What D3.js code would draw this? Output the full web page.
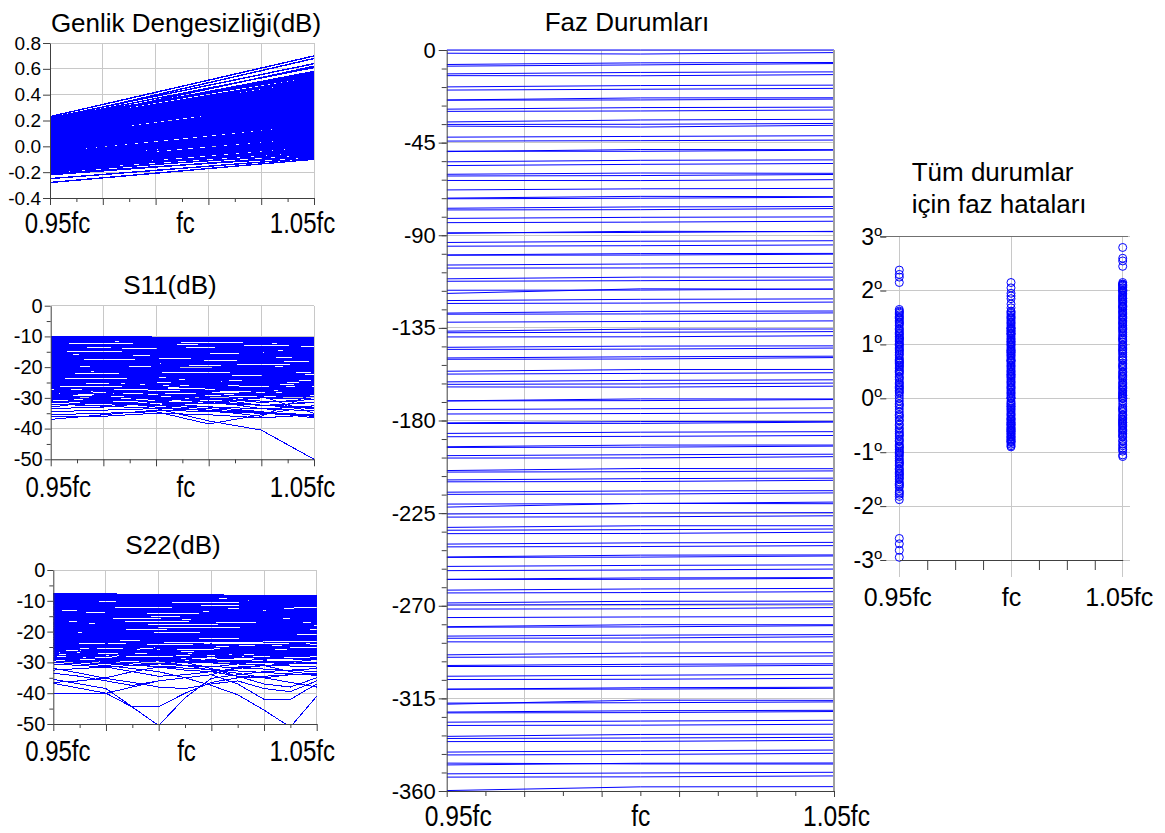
<!DOCTYPE html>
<html>
<head>
<meta charset="utf-8">
<script src="https://cdn.jsdelivr.net/npm/d3@7"></script>
<style>
  body { margin: 0; background: #fff; }
  text { font-family: "Liberation Sans", Arial, sans-serif; fill: #000; }
</style>
</head>
<body>
<script>
// ---- frequency axis ----
const freqGrid = [0.95, 0.97, 0.99, 1.01, 1.03, 1.05];
const freqMinor = [0.96, 0.98, 1.00, 1.02, 1.04];
const freq3 = [0.95, 1.00, 1.05];
const freq6 = [0.95, 0.97, 0.99, 1.01, 1.03, 1.05];
const freq11 = [0.95, 0.96, 0.97, 0.98, 0.99, 1.00, 1.01, 1.02, 1.03, 1.04, 1.05];
const labelFreqs = [0.95, 1.00, 1.05];
const labelTexts = ["0.95fc", "fc", "1.05fc"];
const errMinor = [0.9625, 0.975, 0.9875, 1.0125, 1.025, 1.0375];

// ---- tick labels ----
const genlikTicks = [0.8, 0.6, 0.4, 0.2, 0.0, -0.2, -0.4];
const sTicks = [0, -10, -20, -30, -40, -50];
const sMinor = [-5, -15, -25, -35, -45];
const phaseTicks = [0, -45, -90, -135, -180, -225, -270, -315, -360];
const errTicks = [3, 2, 1, 0, -1, -2, -3];

// ---- 7-bit phase shifter: 128 states, 2.8125 deg step ----
const phaseStep = 2.8125;
const states = d3.range(128);

// phase error (deg) of each state at 0.95fc, fc, 1.05fc
const err095 = [
  0.00, 1.25, -1.42, 0.58, -0.35, 1.60, -1.05, 0.22, -1.78, 0.95, -0.62, 1.12, -1.20, 0.40, 2.38, -0.15,
  0.75, -1.55, 1.48, -0.88, 0.10, -1.32, 0.66, 1.30, -0.48, -1.65, 0.85, -0.95, 1.05, -0.25, 0.50, -1.88,
  1.18, -0.70, 0.30, -1.12, 1.55, -0.40, 0.92, -1.48, 0.15, -2.95, 1.40, -0.80, 0.62, -1.25, 1.02, -0.05,
  -1.60, 0.45, 1.22, -1.00, 0.80, -0.55, 1.62, -1.38, 0.05, -0.92, 0.70, 2.25, -1.72, 1.10, -0.30, 0.35,
  -1.15, 1.35, -0.65, 0.55, -1.50, 0.98, -0.20, 1.45, -1.82, 0.25, -0.75, 1.15, -1.08, 0.68, -2.70, 1.58,
  -0.42, 0.88, -1.30, 0.12, 1.28, -0.98, 0.48, -1.62, 1.00, -0.58, 0.18, -1.22, 1.52, -0.85, 0.60, -1.45,
  0.38, 1.20, -0.12, -1.75, 0.82, -0.68, 1.08, 2.15, -1.35, 0.28, -0.90, 1.42, -0.50, 0.72, -1.18, 1.65,
  -2.82, 0.52, -1.02, 1.38, -0.32, 0.90, -1.58, 0.20, 1.50, -0.78, 0.65, -1.40, 2.30, -0.10, 1.12, -2.60
];
const errFc = [
  0.00, 0.85, -0.62, 1.20, 0.35, 1.55, -0.40, 0.62, -0.78, 1.05, 0.15, 1.32, -0.25, 0.48, 1.95, 0.20,
  0.95, -0.55, 1.40, -0.15, 0.70, -0.70, 0.88, 1.25, 0.05, -0.80, 1.10, -0.30, 1.18, 0.28, 0.75, -0.88,
  1.35, -0.10, 0.55, -0.48, 1.62, 0.10, 1.00, -0.65, 0.42, -0.72, 1.48, -0.20, 0.80, -0.35, 1.15, 0.30,
  -0.60, 0.68, 1.28, -0.42, 0.92, 0.02, 1.75, -0.58, 0.38, -0.18, 0.90, 2.15, -0.75, 1.22, 0.12, 0.58,
  -0.50, 1.42, -0.05, 0.72, -0.68, 1.08, 0.25, 1.50, -0.82, 0.45, -0.12, 1.30, -0.45, 0.82, -0.90, 1.85,
  0.08, 1.02, -0.52, 0.40, 1.38, -0.38, 0.65, -0.72, 1.12, -0.08, 0.50, -0.55, 1.58, -0.28, 0.78, -0.62,
  0.60, 1.30, 0.18, -0.76, 0.98, -0.22, 1.20, 2.05, -0.48, 0.52, -0.32, 1.45, 0.00, 0.85, -0.45, 1.68,
  -0.85, 0.70, -0.38, 1.52, 0.22, 1.05, -0.66, 0.44, 1.60, -0.15, 0.88, -0.58, 1.90, 0.32, 1.25, -0.80
];
const err105 = [
  0.00, 1.55, -0.45, 1.85, 0.62, 2.10, -0.20, 1.05, -0.72, 1.48, 0.35, 1.78, 0.10, 0.88, 2.80, 0.55,
  1.25, -0.60, 1.95, 0.05, 1.12, -0.85, 1.40, 1.70, 0.28, -0.95, 1.60, -0.10, 1.72, 0.48, 1.18, -1.08,
  1.90, 0.15, 0.92, -0.38, 2.05, 0.40, 1.35, -0.65, 0.78, -0.88, 2.00, 0.02, 1.28, -0.25, 1.65, 0.58,
  -0.55, 1.00, 1.82, -0.30, 1.45, 0.30, 2.45, -0.50, 0.70, 0.08, 1.30, 2.60, -0.78, 1.75, 0.45, 0.98,
  -0.42, 2.02, 0.20, 1.15, -0.68, 1.62, 0.50, 2.12, -0.92, 0.82, 0.12, 1.88, -0.35, 1.38, -1.05, 2.55,
  0.25, 1.52, -0.48, 0.72, 1.98, -0.15, 1.08, -0.62, 1.68, 0.18, 0.95, -0.40, 2.08, 0.00, 1.22, -0.58,
  0.85, 1.92, 0.38, -0.80, 1.58, 0.05, 1.80, 2.15, -0.32, 0.90, -0.05, 2.00, 0.42, 1.32, -0.22, 2.10,
  -0.98, 1.10, -0.18, 2.05, 0.60, 1.50, -0.52, 0.75, 2.12, 0.22, 1.42, -0.45, 1.85, 0.65, 1.70, -0.70
];
const phaseErr = [err095, errFc, err105];

// amplitude imbalance (dB) of each state at 0.95fc and 1.05fc
const genlik095 = [
  0.23, 0.21, 0.18, 0.20, 0.15, 0.12, 0.19, 0.08, 0.10, 0.05, 0.14, 0.02, 0.07, -0.01, 0.11, 0.04,
  0.16, 0.22, 0.13, 0.06, 0.00, -0.03, 0.09, 0.17, -0.05, 0.03, 0.12, -0.08, 0.01, 0.19, -0.02, 0.08,
  -0.10, 0.14, 0.05, -0.12, 0.21, -0.06, 0.10, -0.04, 0.18, -0.14, 0.02, 0.07, -0.09, 0.15, -0.01, 0.11,
  -0.16, 0.04, -0.07, 0.13, -0.11, 0.20, -0.03, 0.06, -0.18, 0.09, -0.13, 0.01, 0.16, -0.15, 0.03, -0.05,
  -0.20, 0.12, -0.08, 0.18, -0.17, 0.05, -0.02, 0.10, -0.19, 0.14, -0.10, 0.00, 0.22, -0.21, 0.07, -0.06,
  -0.12, 0.17, -0.04, 0.09, -0.16, 0.02, 0.13, -0.09, 0.19, -0.14, 0.04, -0.01, 0.11, -0.18, 0.06, -0.07,
  -0.22, 0.15, -0.11, 0.08, -0.03, 0.20, -0.15, 0.01, 0.12, -0.06, 0.16, -0.20, 0.03, -0.13, 0.10, -0.02,
  -0.28, -0.25, 0.21, -0.17, 0.05, -0.08, 0.14, -0.10, 0.18, -0.04, 0.07, -0.19, 0.00, 0.11, -0.12, 0.09
];
const genlik105 = [
  0.70, 0.68, 0.62, 0.55, 0.50, 0.45, 0.58, 0.40, 0.36, 0.33, 0.47, 0.30, 0.38, 0.22, 0.42, 0.28,
  0.48, 0.64, 0.44, 0.35, 0.25, 0.20, 0.39, 0.52, 0.15, 0.31, 0.46, 0.10, 0.27, 0.53, 0.18, 0.37,
  0.12, 0.43, 0.29, 0.06, 0.56, 0.16, 0.34, 0.21, 0.49, 0.04, 0.26, 0.32, 0.09, 0.45, 0.23, 0.40,
  0.02, 0.30, 0.14, 0.41, 0.08, 0.51, 0.19, 0.33, -0.02, 0.36, 0.05, 0.24, 0.47, 0.00, 0.28, 0.13,
  -0.05, 0.39, 0.11, 0.50, -0.03, 0.31, 0.20, 0.37, -0.06, 0.44, 0.07, 0.25, 0.54, -0.08, 0.34, 0.15,
  0.10, 0.48, 0.17, 0.35, 0.01, 0.27, 0.42, 0.12, 0.52, 0.03, 0.29, 0.22, 0.38, -0.04, 0.32, 0.14,
  -0.07, 0.46, 0.08, 0.36, 0.19, 0.57, 0.02, 0.26, 0.41, 0.16, 0.49, -0.05, 0.30, 0.06, 0.39, 0.21,
  -0.10, -0.09, 0.61, 0.00, 0.31, 0.13, 0.45, 0.10, 0.53, 0.18, 0.34, -0.01, 0.24, 0.40, 0.09, 0.37
];

// S11 (dB): near-flat traces (0.95fc -> 1.05fc) and deeper traces at freq6
const s11Start = [
  -10.0, -10.3, -10.8, -11.2, -11.5, -12.0, -12.4, -12.9, -13.1, -13.6, -14.0, -14.3, -14.8, -15.2, -15.5, -16.0,
  -16.3, -16.9, -17.2, -17.5, -18.0, -18.4, -18.8, -19.1, -19.6, -20.0, -20.4, -20.7, -21.2, -21.6, -22.0, -22.3,
  -22.8, -23.1, -23.5, -24.0, -10.1, -10.6, -11.0, -11.8, -12.2, -12.7, -13.3, -13.8, -14.5, -15.0, -15.8, -16.6,
  -17.0, -17.8, -18.2, -19.0, -19.4, -20.2, -20.9, -21.4, -21.9, -22.5, -23.3, -23.8, -24.4, -24.8, -10.2, -10.4,
  -11.4, -12.6, -13.5, -14.1, -15.4, -16.2, -17.4, -18.6, -19.8, -20.6, -21.0, -22.2, -23.0, -24.2, -25.0, -25.5,
  -26.0, -26.4, -27.0, -27.5, -28.0, -28.3, -28.8, -29.2, -29.6, -30.0, -30.5, -31.0, -31.4, -32.0, -25.8, -26.8,
  -27.8, -29.0, -30.2, -31.2, -24.6, -25.2, -22.6, -21.8, -19.3, -16.8, -13.0, -11.6, -10.0, -12.8, -15.6, -18.3
];
const s11End = [
  -10.5, -10.6, -11.5, -10.9, -12.8, -11.3, -13.5, -12.0, -14.6, -12.5, -15.2, -13.8, -13.9, -16.5, -14.8, -17.2,
  -15.5, -18.0, -16.4, -18.9, -17.0, -19.8, -17.9, -20.5, -18.6, -21.4, -19.5, -22.0, -20.3, -22.8, -21.0, -23.5,
  -21.9, -24.6, -22.8, -25.3, -10.6, -11.8, -10.7, -12.9, -11.4, -13.9, -12.4, -14.9, -13.6, -16.2, -14.9, -17.4,
  -16.1, -19.1, -17.3, -20.2, -18.4, -21.3, -19.9, -22.6, -20.8, -23.7, -22.1, -24.9, -23.3, -26.1, -10.5, -11.2,
  -10.8, -13.7, -12.3, -15.3, -14.2, -17.5, -16.0, -19.6, -18.3, -21.5, -20.1, -23.2, -21.9, -25.6, -23.8, -27.0,
  -24.5, -28.2, -25.8, -29.0, -26.5, -30.4, -27.2, -31.5, -28.3, -33.0, -28.8, -34.2, -29.5, -35.5, -27.0, -29.5,
  -33.5, -26.5, -35.8, -28.5, -26.0, -27.8, -24.0, -20.5, -21.5, -15.9, -14.5, -10.9, -10.7, -11.9, -16.8, -17.2
];
const s11Deep = [
  [-34.5, -34.0, -33.5, -37.5, -40.5, -50.0],
  [-37.0, -35.5, -34.0, -34.5, -35.0, -36.0],
  [-35.5, -35.0, -34.5, -38.5, -35.5, -32.5],
  [-32.0, -32.5, -31.5, -32.0, -29.5, -35.0],
  [-33.0, -31.0, -33.0, -34.0, -36.0, -28.5],
  [-36.0, -36.0, -35.0, -35.5, -36.5, -35.5],
  [-31.0, -31.5, -32.5, -31.0, -33.5, -33.0],
  [-30.0, -29.5, -28.5, -30.0, -31.5, -30.5],
  [-29.0, -30.0, -29.5, -28.5, -29.0, -27.5],
  [-33.5, -33.0, -31.5, -33.0, -34.5, -36.5],
  [-28.5, -28.0, -30.0, -29.0, -28.0, -29.5],
  [-31.5, -32.0, -31.0, -30.0, -32.5, -31.5],
  [-27.5, -26.5, -27.0, -27.5, -27.0, -28.0],
  [-26.5, -27.0, -25.5, -26.0, -25.5, -26.5],
  [-30.5, -31.0, -30.0, -31.5, -30.0, -29.0],
  [-25.5, -25.0, -26.5, -25.0, -26.0, -27.0]
];

// S22 (dB): near-flat traces (0.95fc -> 1.05fc) and deeper traces at freq11
const s22Start = [
  -7.6, -7.9, -8.3, -8.8, -9.2, -9.7, -10.1, -10.6, -11.0, -11.5, -11.9, -12.4, -12.8, -13.3, -13.7, -14.2,
  -14.6, -15.1, -15.5, -16.0, -16.4, -16.9, -17.3, -17.8, -18.2, -18.7, -19.1, -19.6, -20.0, -20.5, -20.9, -21.4,
  -21.8, -22.3, -22.7, -23.2, -7.7, -8.1, -8.6, -9.4, -10.3, -11.2, -12.1, -13.0, -13.9, -14.8, -15.7, -16.6,
  -17.5, -18.4, -19.3, -20.2, -21.1, -22.0, -22.9, -23.8, -24.5, -25.2, -25.8, -26.5, -27.2, -27.8, -28.4, -29.0,
  -7.8, -8.0, -8.5, -9.0, -9.9, -10.8, -11.7, -12.6, -13.5, -14.4, -15.3, -16.2, -17.1, -18.0, -18.9, -19.8,
  -20.7, -21.6, -22.5, -23.4, -24.0, -24.8, -25.5, -26.2, -26.9, -27.6, -28.2, -28.8, -29.5, -30.0, -12.2, -14.0,
  -7.7, -8.4, -9.6, -10.4, -11.3, -12.9, -14.6, -16.1, -17.7, -19.4, -21.0, -22.6, -24.2, -25.6, -27.0, -28.6
];
const s22End = [
  -8.4, -8.6, -9.5, -9.0, -10.6, -10.2, -11.8, -11.0, -12.9, -12.0, -13.8, -13.1, -14.9, -13.9, -15.8, -14.8,
  -16.4, -15.6, -17.3, -16.5, -18.2, -17.4, -19.0, -18.3, -19.8, -19.1, -20.5, -19.9, -21.2, -20.6, -21.8, -21.4,
  -22.2, -21.9, -22.6, -23.0, -8.5, -8.9, -9.9, -9.6, -11.4, -11.0, -13.2, -12.7, -15.0, -14.3, -16.8, -15.9,
  -18.5, -17.8, -20.2, -19.5, -21.6, -21.3, -23.5, -22.8, -25.8, -24.0, -27.5, -26.0, -28.8, -26.8, -30.0, -27.5,
  -8.4, -8.8, -9.2, -10.0, -10.6, -11.6, -12.4, -13.5, -14.2, -15.1, -16.0, -16.9, -17.8, -18.6, -19.5, -20.4,
  -21.2, -22.0, -22.9, -24.5, -25.0, -26.2, -27.0, -28.3, -29.1, -30.5, -31.5, -33.0, -34.2, -27.0, -12.9, -15.0,
  -8.5, -9.1, -10.3, -11.1, -12.0, -13.6, -15.3, -16.8, -18.4, -20.0, -21.5, -23.0, -25.5, -27.8, -26.5, -30.5
];
const s22Deep = [
  [-36.8, -38.4, -40.0, -44.5, -50.5, -41.5, -35.2, -34.0, -33.0, -32.5, -32.0],
  [-35.5, -37.0, -38.5, -44.4, -44.4, -40.0, -36.5, -35.0, -34.5, -34.0, -33.5],
  [-30.0, -30.5, -31.0, -32.0, -33.0, -35.0, -37.5, -40.5, -45.5, -51.0, -41.0],
  [-33.5, -34.5, -36.0, -37.5, -36.0, -35.0, -34.0, -37.0, -42.0, -42.0, -37.0],
  [-31.9, -33.5, -35.2, -36.5, -38.0, -38.5, -37.0, -36.0, -38.5, -39.5, -36.0],
  [-40.0, -40.0, -40.0, -38.0, -36.0, -35.0, -34.0, -31.5, -31.0, -33.0, -34.0],
  [-32.5, -32.0, -31.5, -31.0, -30.5, -30.0, -32.0, -34.5, -37.0, -38.0, -35.0],
  [-29.0, -29.5, -30.0, -30.5, -31.5, -32.5, -33.0, -32.0, -31.0, -30.5, -30.0],
  [-36.5, -36.0, -35.0, -33.0, -31.5, -31.0, -32.5, -33.5, -35.0, -36.5, -38.0],
  [-30.5, -31.0, -31.5, -33.0, -34.5, -34.0, -33.0, -34.5, -35.0, -34.0, -33.5],
  [-28.5, -28.0, -29.0, -29.5, -29.0, -28.5, -30.0, -29.5, -29.0, -28.0, -27.5],
  [-27.5, -28.0, -27.5, -28.5, -29.5, -30.0, -29.0, -28.5, -27.5, -27.0, -26.5],
  [-26.5, -27.0, -27.5, -27.0, -26.5, -27.5, -28.0, -27.5, -26.5, -26.0, -26.0],
  [-25.5, -26.0, -25.0, -25.5, -26.0, -25.5, -25.0, -26.0, -25.5, -25.0, -24.5],
  [-29.5, -30.0, -30.5, -30.0, -29.5, -31.0, -31.5, -30.5, -29.5, -30.0, -29.0],
  [-24.5, -25.0, -24.0, -24.5, -25.5, -24.5, -24.0, -25.0, -24.5, -24.0, -23.5]
];

// ---- drawing ----
const W = 1165, H = 833;
const BLUE = "#0000ff", GRID = "#c8c8c8", AXIS = "#404040";

const svg = d3.select("body").append("svg")
  .attr("width", W)
  .attr("height", H)
  .attr("viewBox", [0, 0, W, H]);

const line = d3.line();
let clipN = 0;

// frame with grid, clipped plot group and axes; returns scales + plot group
function frame(o) {
  const x = d3.scaleLinear().domain([0.95, 1.05]).range([o.left, o.right]);
  const y = d3.scaleLinear().domain(o.yDomain).range([o.bottom, o.top]);
  const root = svg.append("g");

  const grid = root.append("g").attr("stroke", GRID).attr("shape-rendering", "crispEdges");
  grid.selectAll(".h").data(o.yTicks).join("line").attr("class", "h")
    .attr("x1", o.left).attr("x2", o.right)
    .attr("y1", d => y(d)).attr("y2", d => y(d));
  grid.selectAll(".v").data(freqGrid.slice(1)).join("line").attr("class", "v")
    .attr("x1", d => x(d)).attr("x2", d => x(d))
    .attr("y1", o.top).attr("y2", o.bottom);

  const id = "clip" + (clipN++);
  root.append("clipPath").attr("id", id).append("rect")
    .attr("x", o.left).attr("y", o.top - 1)
    .attr("width", o.right - o.left + 1).attr("height", o.bottom - o.top + 2);
  const plot = root.append("g")
    .attr("clip-path", `url(#${id})`)
    .attr("fill", "none")
    .attr("stroke", BLUE)
    .attr("stroke-width", o.lineWidth || 1)
    .attr("shape-rendering", o.crisp ? "crispEdges" : null);

  const axes = root.append("g").attr("color", AXIS);
  // y axis: minor then labelled
  if (o.yMinor.length) {
    axes.append("g").attr("transform", `translate(${o.left},0)`)
      .call(d3.axisLeft(y).tickValues(o.yMinor).tickSize(o.yMinorLen).tickSizeOuter(0).tickFormat(() => ""))
      .call(g => g.select(".domain").remove());
  }
  axes.append("g").attr("transform", `translate(${o.left},0)`)
    .call(d3.axisLeft(y).tickValues(o.yTicks).tickSize(o.yTickLen).tickSizeOuter(0)
      .tickPadding(o.yPad).tickFormat(o.yFormat))
    .call(g => g.selectAll("text").attr("font-size", o.yFont));
  // x axis: minor, major, labels
  axes.append("g").attr("transform", `translate(0,${o.bottom})`)
    .call(d3.axisBottom(x).tickValues(o.xMinor).tickSize(o.xMinorLen).tickSizeOuter(0).tickFormat(() => ""))
    .call(g => g.select(".domain").remove());
  axes.append("g").attr("transform", `translate(0,${o.bottom})`)
    .call(d3.axisBottom(x).tickValues(freqGrid).tickSize(o.xMajorLen).tickSizeOuter(0).tickFormat(() => ""));
  axes.append("g").attr("transform", `translate(0,${o.bottom})`)
    .call(d3.axisBottom(x).tickValues(labelFreqs).tickSize(0).tickFormat((d, i) => labelTexts[i]))
    .call(g => g.select(".domain").remove())
    .call(g => g.selectAll("text")
      .attr("y", o.xLabelY).attr("dy", null)
      .attr("font-size", o.xFont)
      .attr("transform", (d, i) => `translate(${o.xShift[i]},0) scale(${o.xScaleX},1)`));

  root.append("text")
    .attr("x", o.titleX).attr("y", o.titleY)
    .attr("text-anchor", "middle")
    .attr("font-size", 26)
    .text(o.title);

  return { x, y, plot };
}

const dash = d => String(d);

// --- Genlik Dengesizliği ---
{
  const f = frame({
    left: 50, right: 314, top: 43, bottom: 198, crisp: true, lineWidth: 1.4,
    yDomain: [-0.4, 0.8], yTicks: genlikTicks, yMinor: [], yMinorLen: 4,
    yTickLen: 7, yPad: 2, yFont: 19, yFormat: d => d.toFixed(1),
    xMinor: freqMinor, xMinorLen: 4, xMajorLen: 7,
    xLabelY: 35, xFont: 30, xScaleX: 0.8, xShift: [7, 3, -12],
    title: "Genlik Dengesizliği(dB)", titleX: 186, titleY: 32
  });
  f.plot.selectAll("path").data(states).join("path")
    .attr("d", k => line([[f.x(0.95), f.y(genlik095[k])], [f.x(1.05), f.y(genlik105[k])]]));
}

// --- S11 ---
{
  const f = frame({
    left: 50.7, right: 314, top: 305.7, bottom: 459.3, crisp: true,
    yDomain: [-50, 0], yTicks: sTicks, yMinor: sMinor, yMinorLen: 4,
    yTickLen: 6, yPad: 2, yFont: 20, yFormat: dash,
    xMinor: freqMinor, xMinorLen: 4, xMajorLen: 7,
    xLabelY: 38, xFont: 30, xScaleX: 0.8, xShift: [7, 3, -12],
    title: "S11(dB)", titleX: 170, titleY: 294
  });
  f.plot.selectAll(".flat").data(s11Start).join("path").attr("class", "flat")
    .attr("d", (v, i) => line([[f.x(0.95), f.y(v)], [f.x(1.05), f.y(s11End[i])]]));
  f.plot.selectAll(".deep").data(s11Deep).join("path").attr("class", "deep")
    .attr("d", row => line(row.map((v, j) => [f.x(freq6[j]), f.y(v)])));
}

// --- S22 ---
{
  const f = frame({
    left: 53.3, right: 316.7, top: 570, bottom: 724, crisp: true,
    yDomain: [-50, 0], yTicks: sTicks, yMinor: sMinor, yMinorLen: 4,
    yTickLen: 6, yPad: 2, yFont: 20, yFormat: dash,
    xMinor: freqMinor, xMinorLen: 4, xMajorLen: 7,
    xLabelY: 37, xFont: 30, xScaleX: 0.8, xShift: [4, 1, -15],
    title: "S22(dB)", titleX: 173, titleY: 554
  });
  f.plot.selectAll(".flat").data(s22Start).join("path").attr("class", "flat")
    .attr("d", (v, i) => line([[f.x(0.95), f.y(v)], [f.x(1.05), f.y(s22End[i])]]));
  f.plot.selectAll(".deep").data(s22Deep).join("path").attr("class", "deep")
    .attr("d", row => line(row.map((v, j) => [f.x(freq11[j]), f.y(v)])));
}

// --- Faz Durumları ---
{
  const f = frame({
    left: 446.7, right: 834, top: 50, bottom: 791, crisp: false,
    yDomain: [-360, 0], yTicks: phaseTicks, yMinor: d3.range(0, -361, -9), yMinorLen: 5,
    yTickLen: 8, yPad: 3, yFont: 22, yFormat: dash,
    xMinor: freqMinor, xMinorLen: 5, xMajorLen: 6,
    xLabelY: 35, xFont: 30, xScaleX: 0.82, xShift: [11, 0, 2],
    title: "Faz Durumları", titleX: 627, titleY: 31
  });
  f.plot.selectAll("path").data(states).join("path")
    .attr("d", k => line(freq3.map((fr, j) => [f.x(fr), f.y(-k * phaseStep + phaseErr[j][k])])));
  // darker right border
  svg.append("line")
    .attr("x1", f.x(1.05)).attr("x2", f.x(1.05))
    .attr("y1", f.y(0)).attr("y2", f.y(-360))
    .attr("stroke", "#a0a0a0").attr("stroke-width", 2);
}

// --- Tüm durumlar için faz hataları ---
{
  const x = d3.scaleLinear().domain([0.95, 1.05]).range([899.3, 1122.7]);
  const y = d3.scaleLinear().domain([-3, 3]).range([560, 236.7]);
  const gx0 = x(0.95) - 19, gx1 = x(1.05) + 7;
  const root = svg.append("g");

  root.append("g").attr("stroke", GRID).attr("shape-rendering", "crispEdges")
    .selectAll("line").data(errTicks).join("line")
    .attr("x1", gx0).attr("x2", gx1)
    .attr("y1", d => y(d)).attr("y2", d => y(d));
  root.append("g").attr("stroke", GRID).attr("shape-rendering", "crispEdges")
    .selectAll("line").data(freq3).join("line")
    .attr("x1", d => x(d)).attr("x2", d => x(d))
    .attr("y1", y(3)).attr("y2", y(-3) + 17);

  // top border
  root.append("line").attr("shape-rendering", "crispEdges")
    .attr("x1", gx0).attr("x2", gx1 - 2).attr("y1", y(3)).attr("y2", y(3))
    .attr("stroke", "#707070").attr("stroke-width", 1.5);

  const pts = freq3.flatMap((fr, j) => phaseErr[j].map(e => [fr, e]));
  root.append("g")
    .attr("fill", "none").attr("stroke", BLUE).attr("stroke-width", 1)
    .selectAll("circle").data(pts).join("circle")
    .attr("cx", d => x(d[0])).attr("cy", d => y(d[1])).attr("r", 4);

  const ax = root.append("g").attr("color", AXIS);
  ax.append("g").attr("transform", `translate(0,${y(-3)})`)
    .call(d3.axisBottom(x).tickValues(errMinor).tickSize(10).tickSizeOuter(0).tickFormat(() => ""));
  ax.append("g").attr("transform", `translate(0,${y(-3)})`)
    .call(d3.axisBottom(x).tickValues(labelFreqs).tickSize(0).tickFormat((d, i) => labelTexts[i]))
    .call(g => g.select(".domain").remove())
    .call(g => g.selectAll("text")
      .attr("y", 46).attr("dy", null)
      .attr("font-size", 25)
      .attr("transform", (d, i) => `translate(${[-2, 0, -4][i]},0)`));

  const yl = ax.append("g").attr("transform", `translate(${gx0 + 6},0)`)
    .call(d3.axisLeft(y).tickValues(errTicks).tickSize(6).tickSizeOuter(0).tickPadding(-2).tickFormat(""))
    .call(g => g.select(".domain").remove());
  yl.selectAll(".tick text")
    .attr("font-size", 23)
    .text(d => d)
    .append("tspan")
    .attr("dy", -9)
    .attr("font-size", 15)
    .text("o");

  root.append("text").attr("x", 911.7).attr("y", 181).attr("font-size", 26).text("Tüm durumlar");
  root.append("text").attr("x", 911.7).attr("y", 213.3).attr("font-size", 26).text("için faz hataları");
}
</script>
</body>
</html>
